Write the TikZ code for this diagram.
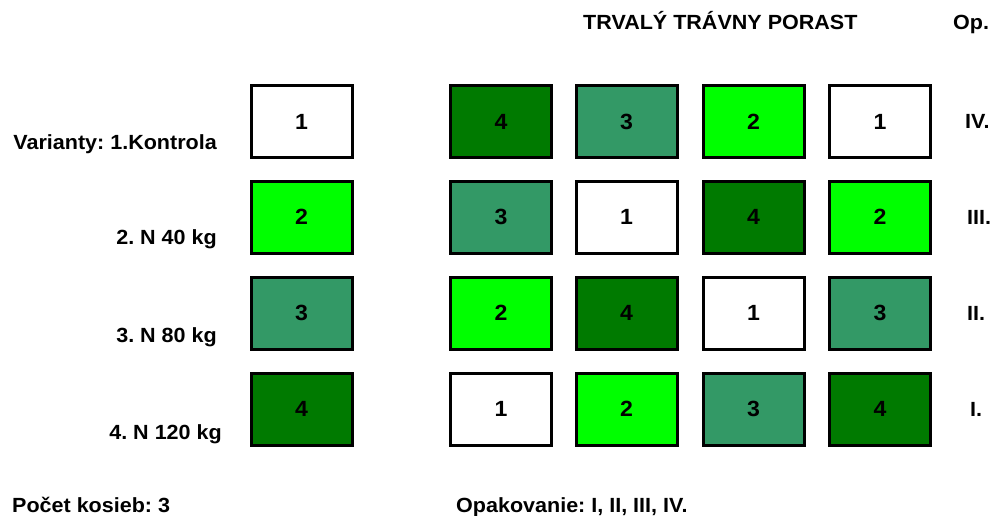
\documentclass[tikz,border=0pt]{standalone}
\usepackage{fontspec}
\setmainfont[FakeStretch=1.05]{Liberation Sans}
\definecolor{gdark}{HTML}{007A00}
\definecolor{gmid}{HTML}{339966}
\definecolor{glight}{HTML}{00FF00}
\tikzset{
  plot/.style={draw=black, line width=3pt, minimum width=101pt, minimum height=72pt, inner sep=0pt, font=\fontsize{22}{26}\selectfont\bfseries},
  v1/.style={plot, fill=white},
  v2/.style={plot, fill=glight},
  v3/.style={plot, fill=gmid},
  v4/.style={plot, fill=gdark},
  lbl/.style={inner sep=0pt, font=\frenchspacing\fontsize{20.5}{24}\selectfont\bfseries},
}
\begin{document}
\begin{tikzpicture}[x=1pt,y=-1pt]
\useasboundingbox (0,0) rectangle (997,515);
% left legend column
\node[v1] (L1) at (301.5,121.5) {1};
\node[v2] (L2) at (301.5,217) {2};
\node[v3] (L3) at (301.5,313) {3};
\node[v4] (L4) at (301.5,409) {4};
% row IV
\node[v4] (a1) at (501,121.5) {4};
\node[v3] (a2) at (626.5,121.5) {3};
\node[v2] (a3) at (753.5,121.5) {2};
\node[v1] (a4) at (880,121.5) {1};
% row III
\node[v3] (b1) at (501,217) {3};
\node[v1] (b2) at (626.5,217) {1};
\node[v4] (b3) at (753.5,217) {4};
\node[v2] (b4) at (880,217) {2};
% row II
\node[v2] (c1) at (501,313) {2};
\node[v4] (c2) at (626.5,313) {4};
\node[v1] (c3) at (753.5,313) {1};
\node[v3] (c4) at (880,313) {3};
% row I
\node[v1] (d1) at (501,409) {1};
\node[v2] (d2) at (626.5,409) {2};
\node[v3] (d3) at (753.5,409) {3};
\node[v4] (d4) at (880,409) {4};
% labels
\node[lbl, anchor=base east] (t1) at (217,149) {Varianty: 1.Kontrola};
\node[lbl, anchor=base east] (t2) at (217,244) {2. N 40 kg};
\node[lbl, anchor=base east] (t3) at (217,342) {3. N 80 kg};
\node[lbl, anchor=base east] (t4) at (222,439) {4. N 120 kg};
\node[lbl, anchor=base west] (title) at (583,29.5) {TRVALÝ TRÁVNY PORAST};
\node[lbl, anchor=base west] (op) at (953,29.5) {Op.};
\node[lbl, anchor=west] (r4) at (965,121.5) {IV.};
\node[lbl, anchor=west] (r3) at (967,217) {III.};
\node[lbl, anchor=west] (r2) at (967,313) {II.};
\node[lbl, anchor=west] (r1) at (970,409) {I.};
\node[lbl, anchor=base west] (pk) at (12,512) {Počet kosieb: 3};
\node[lbl, anchor=base west] (opk) at (456,512) {Opakovanie: I, II, III, IV.};
\end{tikzpicture}
\end{document}
